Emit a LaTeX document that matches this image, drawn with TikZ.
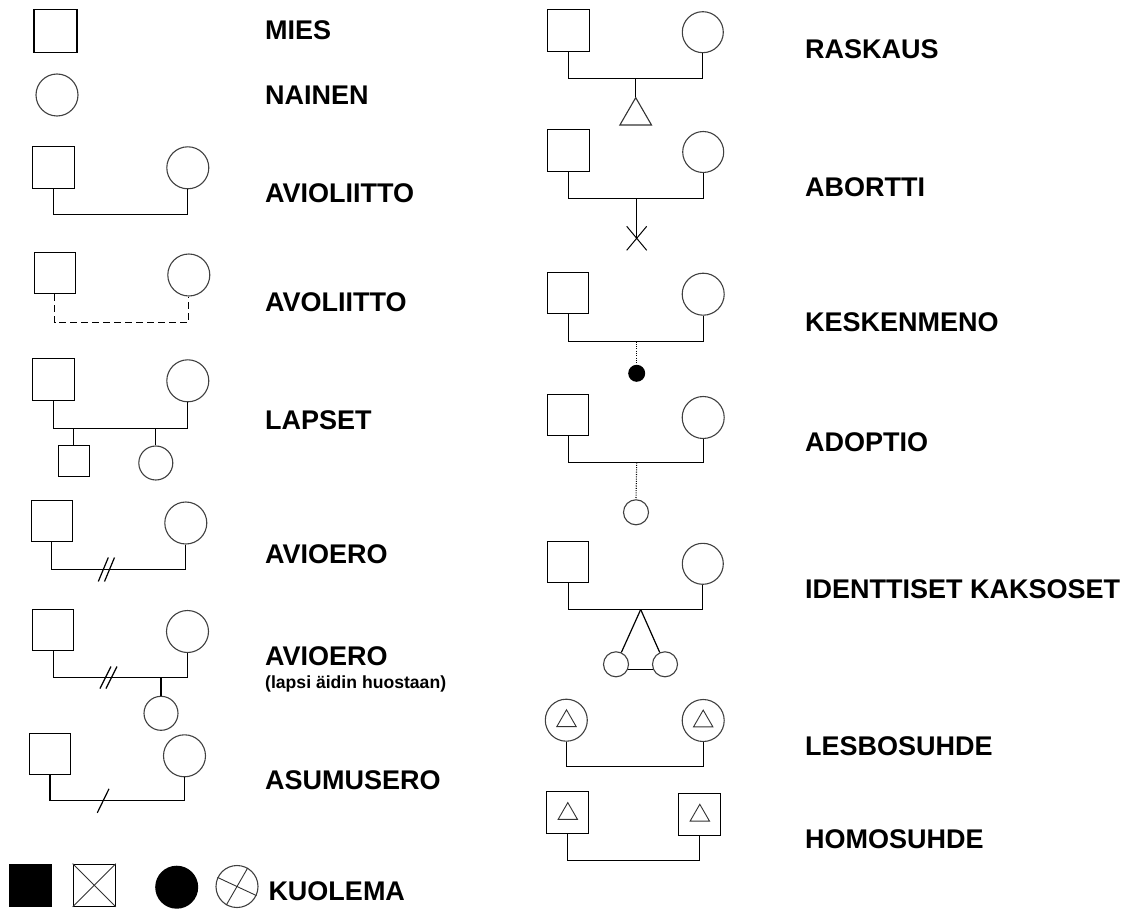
\documentclass[tikz,border=0pt]{standalone}
\usepackage{fontspec}
\setmainfont{Liberation Sans}
\usetikzlibrary{shapes.geometric,shapes.misc}
\begin{document}
\begin{tikzpicture}[x=1pt,y=-1pt,
  ln/.style={line width=1.2pt},
  dashln/.style={line width=1.2pt, dash pattern=on 7pt off 4pt},
  dotln/.style={line width=1.1pt, dash pattern=on 1pt off 1.3pt},
  male/.style={draw, line width=1.2pt, rectangle, minimum size=#1, inner sep=0pt},
  male/.default=42pt,
  female/.style={draw=black!75, line width=1.1pt, circle, minimum size=#1, inner sep=0pt},
  female/.default=42pt,
  tri/.style={draw=black!80, line width=1.1pt, regular polygon, regular polygon sides=3, minimum size=#1, inner sep=0pt},
  lbl/.style={anchor=west, inner sep=0pt, font=\fontsize{27}{30}\selectfont\bfseries},
  sublbl/.style={anchor=west, inner sep=0pt, font=\fontsize{17.6}{20}\selectfont\bfseries},
]
\useasboundingbox (0,0) rectangle (1129,909);

% ---------- left column ----------
% MIES
\node[male=43pt] (s1) at (55.5,31) {};
\node[lbl] (l1) at (265,30) {MIES};
% NAINEN
\node[female] (c1) at (57,95) {};
\node[lbl] (l2) at (265,95.5) {NAINEN};
% AVIOLIITTO
\node[male] (s2) at (53.2,167.5) {};
\node[female] (c2) at (187.8,167.8) {};
\coordinate (m2) at (120,214.5);
\draw[ln] (s2.south) |- (m2) -| (c2.south);
\node[lbl] (l3) at (265,193) {AVIOLIITTO};
% AVOLIITTO
\node[male=41pt] (s3) at (54.8,273) {};
\node[female] (c3) at (188.8,275) {};
\coordinate (m3) at (120,322.5);
\draw[dashln] (s3.south) |- (m3) -| (c3.south);
\node[lbl] (l4) at (265,302.7) {AVOLIITTO};
% LAPSET
\node[male] (s4) at (53.2,379.2) {};
\node[female] (c4) at (187.8,380.8) {};
\coordinate (m4) at (120,428.5);
\draw[ln] (s4.south) |- (m4) -| (c4.south);
\node[male=31pt] (ch4a) at (73.8,461.3) {};
\node[female=34pt] (ch4b) at (155.8,463) {};
\draw[ln] (ch4a.north) -- (ch4a.north |- m4);
\draw[ln] (ch4b.north) -- (ch4b.north |- m4);
\node[lbl] (l5) at (265,420) {LAPSET};
% AVIOERO
\node[male=41pt] (s5) at (51.8,521.2) {};
\node[female] (c5) at (185.8,523) {};
\coordinate (m5) at (106.5,569.5);
\draw[ln] (s5.south) |- (m5) -| (c5.south);
\draw[ln] (m5) ++(-8.2,12) -- ++(10,-24);
\draw[ln] (m5) ++(-2,12) -- ++(10,-24);
\node[lbl] (l6) at (265,554.5) {AVIOERO};
% AVIOERO (lapsi)
\node[male=41pt] (s6) at (53.3,630) {};
\node[female] (c6) at (187.5,631.5) {};
\coordinate (m6) at (108.6,677.5);
\draw[ln] (s6.south) |- (m6) -| (c6.south);
\draw[ln] (m6) ++(-8.6,11) -- ++(11,-22);
\draw[ln] (m6) ++(-2.6,11) -- ++(11,-22);
\node[female=34pt] (ch6) at (161,713.3) {};
\draw[ln] (ch6.north) -- (ch6.north |- m6);
\node[lbl] (l7) at (265,655.8) {AVIOERO};
\node[sublbl] (l7b) at (265,683.7) {(lapsi äidin huostaan)};
% ASUMUSERO
\node[male=41pt] (s7) at (50,753.8) {};
\node[female] (c7) at (184.5,755.8) {};
\coordinate (m7) at (103.2,800.5);
\draw[ln] (s7.south) |- (m7) -| (c7.south);
\draw[ln] (m7) ++(-5.9,12.3) -- ++(11.7,-24);
\node[lbl] (l8) at (265,780.3) {ASUMUSERO};
% KUOLEMA
\node[male, fill=black] (k1) at (30.5,885.2) {};
\node[male] (k2) at (94.2,885.2) {};
\draw[line width=0.9pt, black!80] (k2.north west) -- (k2.south east) (k2.north east) -- (k2.south west);
\node[circle, fill=black, minimum size=43pt, inner sep=0pt] (k3) at (176.7,887.2) {};
\node[female] (k4) at (237,886.5) {};
\draw[line width=0.9pt, black!80] (k4.155) -- (k4.-25) (k4.60) -- (k4.240);
\node[lbl] (l9) at (268.3,890.8) {KUOLEMA};

% ---------- right column ----------
% RASKAUS
\node[male] (rs1) at (568.3,30.8) {};
\node[female=41pt] (rc1) at (702.8,32.2) {};
\coordinate (rm1) at (635.7,78.5);
\draw[ln] (rs1.south) |- (rm1) -| (rc1.south);
\node[tri=36.5pt] (rt1) at (635.7,115.9) {};
\draw[ln] (rt1.corner 1) -- (rm1);
\node[lbl] (r1) at (805,49.2) {RASKAUS};
% ABORTTI
\node[male] (rs2) at (568.3,150.8) {};
\node[female=41pt] (rc2) at (703.2,152) {};
\coordinate (rm2) at (636.7,198.5);
\draw[ln] (rs2.south) |- (rm2) -| (rc2.south);
\node[cross out, draw, line width=1pt, minimum width=19pt, minimum height=23pt, inner sep=0pt] (rx2) at (636.7,238.3) {};
\draw[ln] (rm2) -- (rx2.center);
\node[lbl] (r2) at (805,187.5) {ABORTTI};
% KESKENMENO
\node[male=41pt] (rs3) at (568.3,292.8) {};
\node[female] (rc3) at (703.2,294.2) {};
\coordinate (rm3) at (636.7,341.5);
\draw[ln] (rs3.south) |- (rm3) -| (rc3.south);
\node[circle, fill=black, minimum size=17pt, inner sep=0pt] (rk3) at (636.7,373.3) {};
\draw[dotln] (rm3) -- (rk3.north);
\node[lbl] (r3) at (805,322.5) {KESKENMENO};
% ADOPTIO
\node[male=41pt] (rs4) at (568.3,415.3) {};
\node[female] (rc4) at (703.2,417.5) {};
\coordinate (rm4) at (636.7,462.5);
\draw[ln] (rs4.south) |- (rm4) -| (rc4.south);
\node[female=25pt] (ra4) at (636,512.3) {};
\draw[dotln] (rm4) -- (ra4.north);
\node[lbl] (r4) at (805,442) {ADOPTIO};
% IDENTTISET KAKSOSET
\node[male=41pt] (rs5) at (568.3,562.2) {};
\node[female=41pt] (rc5) at (702.8,563.8) {};
\coordinate (rm5) at (640.7,609.5);
\draw[ln] (rs5.south) |- (rm5) -| (rc5.south);
\node[female=25pt] (tw1) at (616,664.3) {};
\node[female=25pt] (tw2) at (665,664.3) {};
\draw[ln] (rm5) -- (tw1);
\draw[ln] (rm5) -- (tw2);
\draw[ln] (tw1.-23) -- (tw2.203);
\node[lbl] (r5) at (805,589.2) {IDENTTISET KAKSOSET};
% LESBOSUHDE
\node[female] (rc6a) at (566.3,720.2) {};
\node[female] (rc6b) at (703.2,720.5) {};
\node[tri=22.4pt, line width=0.9pt] (rt6a) at (566.5,721) {};
\node[tri=22.4pt, line width=0.9pt] (rt6b) at (703.2,721.3) {};
\coordinate (rm6) at (635,766.5);
\draw[ln] (rc6a.south) |- (rm6) -| (rc6b.south);
\node[lbl] (r6) at (805,745.8) {LESBOSUHDE};
% HOMOSUHDE
\node[male] (rs7a) at (567.8,812.8) {};
\node[male] (rs7b) at (699.8,814.5) {};
\node[tri=22.4pt, line width=0.9pt] (rt7a) at (567.8,813.8) {};
\node[tri=22.4pt, line width=0.9pt] (rt7b) at (699.8,815.5) {};
\coordinate (rm7) at (633,860.5);
\draw[ln] (rs7a.south) |- (rm7) -| (rs7b.south);
\node[lbl] (r7) at (805,839.2) {HOMOSUHDE};
\end{tikzpicture}
\end{document}
